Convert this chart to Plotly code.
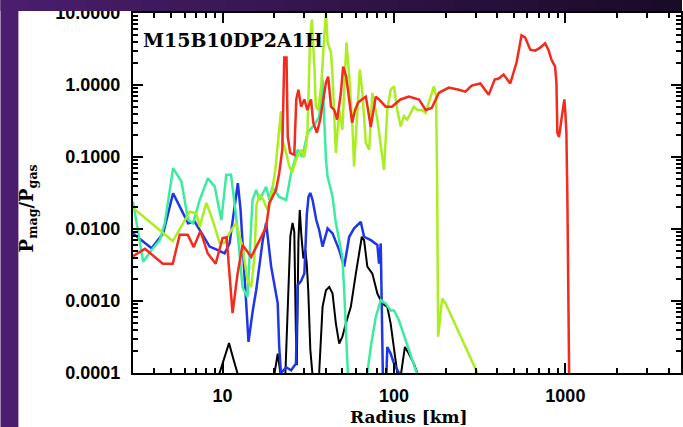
import numpy as np
import plotly.graph_objects as go

# Radius [km] and Pmag/Pgas for each run snapshot curve
red_r = [3.0, 3.52, 4.48, 5.12, 5.62, 6.26, 6.78, 7.42, 8.18, 9.11, 10.0, 10.55, 11.43, 12.2, 13.07, 14.68,
         16.79, 17.95, 18.77, 20.5, 21.4, 22.3, 22.9, 23.6, 24.0, 24.8, 26.2, 26.9, 27.7, 28.7, 30.0, 31.2,
         32.8, 33.8, 35.5, 37.1, 38.1, 40.1, 41.3, 42.9, 44.8, 46.6, 49.0, 50.5, 52.6, 54.8, 57.0, 59.3,
         61.8, 64.9, 68.5, 70.6, 73.2, 75.5, 78.3, 81.8, 89.5, 97.3, 109, 122, 140, 153, 166, 183, 209,
         239, 261, 284, 319, 357, 387, 408, 436, 477, 519, 555, 583, 624, 667, 713, 762, 796, 829, 871,
         887, 898, 919, 948, 987, 1000, 1014, 1028, 1055]
red_v = [0.0042, 0.0053, 0.0033, 0.0033, 0.0083, 0.0083, 0.0056, 0.0094, 0.0046, 0.0033, 0.0075, 0.0077,
         0.00068, 0.0023, 0.006, 0.0041, 0.0077, 0.0107, 0.023, 0.035, 0.06, 0.126, 2.4, 2.4, 0.19, 0.114,
         0.107, 0.63, 0.86, 0.5, 0.63, 0.45, 0.63, 0.3, 0.217, 0.33, 0.5, 1.08, 1.31, 0.5, 0.45, 0.33,
         0.78, 1.8, 1.31, 0.63, 0.3, 0.45, 0.57, 0.63, 0.69, 0.45, 0.26, 0.41, 0.69, 0.63, 0.5, 0.5, 0.63,
         0.69, 0.63, 0.45, 0.48, 0.78, 0.92, 0.86, 0.81, 0.98, 1.05, 0.73, 1.19, 1.23, 1.4, 1.05, 2.05,
         4.9, 4.57, 3.1, 3.0, 3.3, 3.8, 3.1, 2.26, 1.8, 1.08, 0.217, 0.19, 0.33, 0.63, 0.41, 0.217, 0.025,
         0.00005]

yel_r = [3.0, 5.12, 6.43, 7.03, 7.35, 8.04, 8.75, 9.6, 10.27, 10.98, 12.0, 13.07, 13.97, 14.68, 15.35,
         15.77, 16.42, 17.3, 18.26, 19.27, 20.3, 21.4, 21.9, 22.3, 23.5, 24.5, 25.5, 26.8, 28.7, 30.0,
         31.2, 32.4, 33.2, 34.3, 35.0, 36.1, 37.6, 39.2, 40.1, 41.0, 42.9, 43.8, 45.8, 47.9, 50.0, 52.8,
         54.8, 57.2, 58.5, 61.2, 63.2, 65.4, 68.5, 71.6, 74.8, 80.0, 87.5, 91.4, 95.6, 100, 104.5, 109.4,
         114.3, 119.5, 125, 130.7, 136.6, 146, 153, 159.8, 171, 176, 178.5, 181, 191, 200, 304, 320]
yel_v = [0.0196, 0.0068, 0.0174, 0.0165, 0.0108, 0.023, 0.0133, 0.0064, 0.0064, 0.0088, 0.0121, 0.0056,
         0.00195, 0.00156, 0.0041, 0.0216, 0.0298, 0.0254, 0.0184, 0.0298, 0.066, 0.239, 0.43, 0.174,
         0.114, 0.074, 0.06, 0.091, 0.126, 0.10, 0.193, 4.3, 8.1, 1.82, 0.5, 0.45, 0.96, 4.8, 9.9, 3.9,
         2.8, 1.32, 0.114, 0.45, 0.239, 3.9, 1.32, 0.266, 0.074, 0.45, 1.64, 0.78, 0.158, 0.126, 0.78,
         0.33, 0.066, 0.45, 0.86, 0.96, 0.45, 0.266, 0.37, 0.33, 0.41, 0.5, 0.45, 0.45, 0.41, 0.57, 0.96,
         0.70, 0.053, 0.00032, 0.00108, 0.00093, 0.0001, 0.00008]

grn_r = [3.0, 3.44, 3.85, 4.3, 4.6, 5.14, 5.75, 6.29, 6.72, 7.35, 8.21, 8.99, 9.83, 10.5, 11.2, 12.0,
         13.07, 13.97, 14.94, 15.7, 16.42, 17.95, 18.77, 19.5, 21.4, 23.5, 25.1, 27.4, 29.2, 31.3, 34.3,
         36.6, 38.3, 40.1, 41.0, 43.8, 45.8, 47.9, 50.0, 51.2, 52.4, 53.5, 54.5, 68.5, 69.9, 73.2, 78.3,
         83.7, 89.5, 95.6, 100, 106.9, 117, 127.8, 136.6, 140]
grn_v = [0.024, 0.0035, 0.0051, 0.007, 0.0121, 0.07, 0.0456, 0.0133, 0.012, 0.0253, 0.0508, 0.0388,
         0.0133, 0.0565, 0.0565, 0.0148, 0.00156, 0.00113, 0.0253, 0.035, 0.0253, 0.0385, 0.0253, 0.0385,
         0.0279, 0.0253, 0.06, 0.126, 0.10, 0.217, 0.28, 0.363, 1.19, 0.091, 0.053, 0.028, 0.0121, 0.007,
         0.0041, 0.00141, 0.000285, 0.0001, 0.00005, 0.00005, 0.0001, 0.00023, 0.0006, 0.00103, 0.00092,
         0.00074, 0.00074, 0.00054, 0.000285, 0.00015, 0.0001, 0.00008]

blu_r = [3.0, 3.85, 4.5, 5.14, 5.75, 6.29, 6.88, 7.52, 8.4, 9.39, 10.27, 10.98, 11.74, 12.27, 12.73,
         13.42, 14.16, 15.0, 15.7, 17.15, 17.95, 19.2, 20.97, 21.4, 21.9, 23.5, 25.1, 26.8, 27.4, 28.7,
         30.0, 31.0, 31.7, 32.5, 33.5, 35.2, 36.6, 38.3, 41.0, 43.8, 47.9, 51.2, 54.8, 58.5, 64.0, 66.9,
         73.2, 80.0, 81.8, 83.7, 85.5, 86.5, 89.8, 91.4, 95.6, 100, 106.9, 110]
blu_v = [0.0087, 0.0054, 0.0087, 0.0314, 0.0184, 0.012, 0.0126, 0.0087, 0.0057, 0.0051, 0.0046, 0.0063,
         0.0204, 0.0433, 0.0184, 0.0019, 0.00027, 0.00074, 0.00141, 0.007, 0.0121, 0.003, 0.00093,
         0.00023, 0.0001, 0.00012, 0.000109, 0.000136, 0.00166, 0.00189, 0.00242, 0.0157, 0.0279, 0.0317,
         0.0253, 0.0133, 0.0097, 0.0057, 0.0102, 0.0087, 0.0051, 0.003, 0.0078, 0.0102, 0.0126, 0.0078,
         0.007, 0.006, 0.0033, 0.0063, 0.0001, 0.00005, 0.00006, 0.00023, 0.000186, 0.000135, 0.0001,
         0.00006]

blk_r = [3.0, 9.0, 9.6, 10.27, 10.9, 11.48, 12.2, 13.0, 20.1, 20.97, 21.7, 22.6, 23.25, 24.0, 24.85,
         25.6, 26.2, 26.75, 27.1, 27.7, 28.2, 28.8, 29.6, 30.4, 31.0, 31.6, 32.5, 33.4, 34.3, 36.6, 38.3,
         40.1, 41.9, 43.8, 45.8, 47.9, 50.0, 52.4, 56.0, 59.9, 64.9, 66.9, 69.9, 74.8, 80.0, 85.5, 91.4,
         95.6, 100, 104.5, 109.4, 115.8, 122, 130.7, 136.6, 140]
blk_v = [0.00005, 0.00005, 0.0001, 0.000165, 0.00026, 0.000165, 0.0001, 0.00005, 0.0001, 0.000186,
         0.0001, 0.00005, 0.0001, 0.00103, 0.008, 0.0121, 0.0091, 0.00039, 0.000128, 0.007, 0.0184,
         0.0082, 0.0039, 0.0051, 0.0032, 0.00141, 0.00021, 0.0001, 0.00005, 0.0001, 0.00083, 0.00141,
         0.00157, 0.00127, 0.00049, 0.000256, 0.00032, 0.00049, 0.00083, 0.0024, 0.0078, 0.007, 0.003,
         0.0024, 0.00127, 0.00092, 0.00083, 0.00049, 0.00023, 0.0001, 0.00009, 0.00023, 0.000186,
         0.000135, 0.0001, 0.00005]

x_tickvals = [10, 100, 1000]
x_ticktext = ["10", "100", "1000"]
y_tickvals = [1e-4, 1e-3, 1e-2, 1e-1, 1, 10]
y_ticktext = ["0.0001", "0.0010", "0.0100", "0.1000", "1.0000", "10.0000"]

model_label = "M15B10DP2A1H"

curves = [
    (blk_r, blk_v, "#000000", 2.0),
    (blu_r, blu_v, "#1e36e8", 2.5),
    (grn_r, grn_v, "#3cec9e", 2.5),
    (yel_r, yel_v, "#aaee22", 2.5),
    (red_r, red_v, "#f42a1c", 2.5),
]

W, H = 683, 427
ML, MT, MB = 133, 13, 54
plot_w = W - ML
plot_h = H - MT - MB
px_per_decade = 172.0
x_range = [np.log10(3.0), np.log10(3.0) + plot_w / px_per_decade]
y_range = [-4, 1]

# intermediate log ticks (2..9 times each decade)
x_minor = [m * 10.0 ** k for k in range(0, 4) for m in range(2, 10)]
y_minor = [m * 10.0 ** k for k in range(-4, 1) for m in range(2, 10)]

fig = go.Figure()
for rr, vv, col, w in curves:
    fig.add_trace(go.Scatter(x=rr, y=vv, mode="lines", line=dict(color=col, width=w),
                             showlegend=False, hoverinfo="skip"))

tick_font = dict(family="Liberation Sans", size=18, color="black", weight="bold")


def log_axis(rng, vals, text, minor_vals, standoff):
    return dict(type="log", range=rng, showgrid=False, zeroline=False,
                showline=True, linecolor="black", linewidth=2, mirror="ticks",
                ticks="inside", ticklen=10, tickwidth=2, tickcolor="black",
                tickmode="array", tickvals=vals, ticktext=text, tickfont=tick_font,
                ticklabelstandoff=standoff,
                minor=dict(ticks="inside", ticklen=5, tickwidth=1.5, tickcolor="black",
                           tickmode="array", tickvals=minor_vals, showgrid=False))


fig.update_layout(
    xaxis=log_axis(x_range, x_tickvals, x_ticktext, x_minor, 5),
    yaxis=log_axis(y_range, y_tickvals, y_ticktext, y_minor, 7),
)


def px_x(p):
    return (p - ML) / plot_w


def px_y(p):
    return (H - MB - p) / plot_h


shapes = []
# slide backdrop: purple strip on the left, darkening band along the top
shapes.append(dict(type="rect", xref="paper", yref="paper", x0=px_x(0), x1=px_x(18),
                   y0=px_y(H), y1=px_y(0), fillcolor="#4c1c6e", line=dict(width=0), layer="above"))
n_steps = 24
c_left = np.array([0x4a, 0x1e, 0x6c])
c_right = np.array([0x1a, 0x0b, 0x28])
for i in range(n_steps):
    t = i / (n_steps - 1)
    c = (c_left * (1 - t) + c_right * t).astype(int)
    shapes.append(dict(type="rect", xref="paper", yref="paper",
                       x0=px_x(W * i / n_steps), x1=px_x(W * (i + 1) / n_steps + 1),
                       y0=px_y(11), y1=px_y(0),
                       fillcolor="rgb(%d,%d,%d)" % tuple(c), line=dict(width=0), layer="above"))

serif_bold = dict(family="DejaVu Serif", color="black", weight="bold")
annotations = [
    dict(text=model_label, xref="paper", yref="paper", x=px_x(141), y=px_y(40),
         xanchor="left", yanchor="middle", showarrow=False, font=dict(size=19, **serif_bold)),
    dict(text="P<sub>mag</sub>/P<sub>gas</sub>", xref="paper", yref="paper", x=px_x(28), y=px_y(208),
         xanchor="center", yanchor="middle", textangle=-90, showarrow=False,
         font=dict(size=18, **serif_bold)),
    dict(text="Radius [km]", xref="paper", yref="paper", x=px_x(410), y=px_y(417),
         xanchor="center", yanchor="middle", showarrow=False, font=dict(size=17, **serif_bold)),
]

fig.update_layout(width=W, height=H, margin=dict(l=ML, r=0, t=MT, b=MB, pad=0),
                  paper_bgcolor="white", plot_bgcolor="white",
                  shapes=shapes, annotations=annotations)

fig.write_html("out.html")
